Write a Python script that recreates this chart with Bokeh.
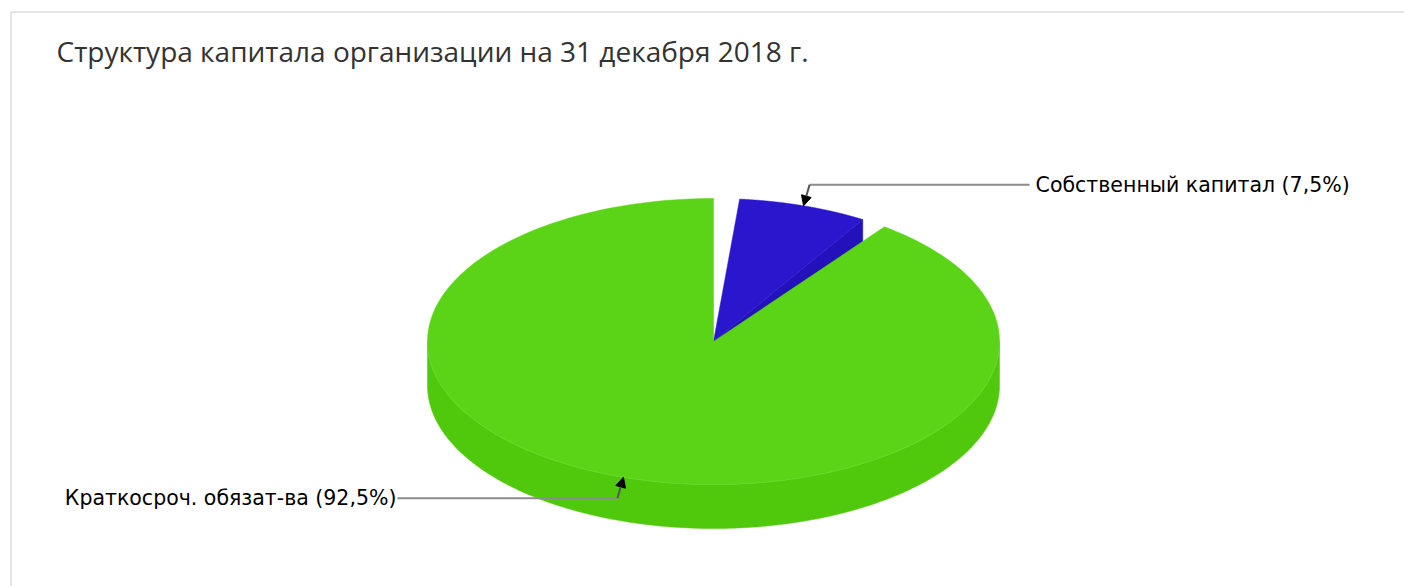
import numpy as np
from bokeh.plotting import figure
from bokeh.models import Range1d, Arrow, NormalHead
from bokeh.core.properties import value
from bokeh.embed import file_html
from bokeh.resources import INLINE

# ---- data ----
title = "Структура капитала организации на 31 декабря 2018 г."
categories = ["Собственный капитал", "Краткосроч. обязат-ва"]
shares = [7.5, 92.5]
share_labels = ["7,5%", "92,5%"]
top_colors = ["#2A16CC", "#5BD417"]
side_colors = ["#2311BC", "#50C80C"]

# ---- layout ----
W, H = 1404, 586
cx, cy, rx, ry, depth = 713.0, 341.0, 286.0, 143.0, 44.0
gap = 5.25          # angular gap between slices (deg)
leader_len = 220.0

p = figure(width=W, height=H, x_range=Range1d(0, W), y_range=Range1d(H, 0),
           output_backend="svg", toolbar_location=None, min_border=0,
           x_axis_location=None, y_axis_location=None,
           background_fill_color="white", border_fill_color="white")
p.grid.visible = False
p.outline_line_color = None


def pt(theta, dy=0.0):
    t = np.radians(theta)
    return cx + rx * np.sin(t), cy - ry * np.cos(t) + dy


def arc(a1, a2, dy=0.0, n=200):
    th = np.linspace(a1, a2, n)
    xs, ys = pt(th, dy)
    return list(xs), list(ys)


# slice angles (clockwise from 12 o'clock)
total = 360.0 - gap * len(shares)
starts, ends = [], []
a = gap
for s in shares:
    starts.append(a)
    a2 = a + total * s / sum(shares)
    ends.append(a2)
    a = a2 + gap

# border (top & left)
p.line(x=[10.5, 10.5, W], y=[H, 11.5, 11.5], line_color="#cccccc", line_width=1)

# side faces
side_xs, side_ys, side_cols = [], [], []
for i, (a1, a2) in enumerate(zip(starts, ends)):
    lo, hi = max(a1, 90.0), min(a2, 270.0)
    if lo < hi:
        tx, ty = arc(lo, hi)
        bx, by = arc(hi, lo, depth)
        side_xs.append(tx + bx)
        side_ys.append(ty + by)
        side_cols.append(side_colors[i])
    if 0 < a2 < 180:
        ex, ey = pt(a2)
        side_xs.append([cx, ex, ex, cx])
        side_ys.append([cy, ey, ey + depth, cy + depth])
        side_cols.append(side_colors[i])
p.patches(xs=side_xs, ys=side_ys, fill_color=side_cols, line_color=side_cols, line_width=0.5)

# top faces
top_xs, top_ys = [], []
for a1, a2 in zip(starts, ends):
    ax, ay = arc(a1, a2)
    top_xs.append([cx] + ax)
    top_ys.append([cy] + ay)
p.patches(xs=top_xs, ys=top_ys, fill_color=top_colors, line_color=top_colors, line_width=0.5)

# subtle highlight along front top edge
hx, hy = arc(max(starts[1], 90.0), 270.0)
p.line(x=hx, y=hy, line_color="#66DA26", line_width=1)

# labels with leaders
lx, ly, ltxt, laln = [], [], [], []
for i, (a1, a2) in enumerate(zip(starts, ends)):
    mid = (a1 + a2) / 2
    tx, ty = pt(mid)
    sx = 1 if np.sin(np.radians(mid)) >= 0 else -1
    sy = -1 if np.cos(np.radians(mid)) >= 0 else 1
    kx, ky = tx + 6 * sx, ty + 21 * sy
    hx2 = kx + leader_len * sx
    p.line(x=[kx, hx2], y=[ky, ky], line_color="#8c8c8c", line_width=2)
    p.add_layout(Arrow(end=NormalHead(size=10, fill_color="black", line_color="black"),
                       x_start=kx, y_start=ky, x_end=tx, y_end=ty,
                       line_color="#555555", line_width=2))
    lx.append(hx2 + (6 if sx > 0 else -1))
    ly.append(ky)
    ltxt.append(f"{categories[i]} ({share_labels[i]})")
    laln.append("left" if sx > 0 else "right")

p.text(x=lx, y=ly, text=ltxt, text_align=laln, text_baseline="middle",
       text_font=value("DejaVu Sans"), text_font_size="20.5px", text_color="#000000")

# title
p.text(x=[56], y=[50], text=[title], text_align="left", text_baseline="middle",
       text_font=value("Open Sans"), text_font_size="28px", text_color="#333333")

open("out.html", "w").write(file_html(p, INLINE))
